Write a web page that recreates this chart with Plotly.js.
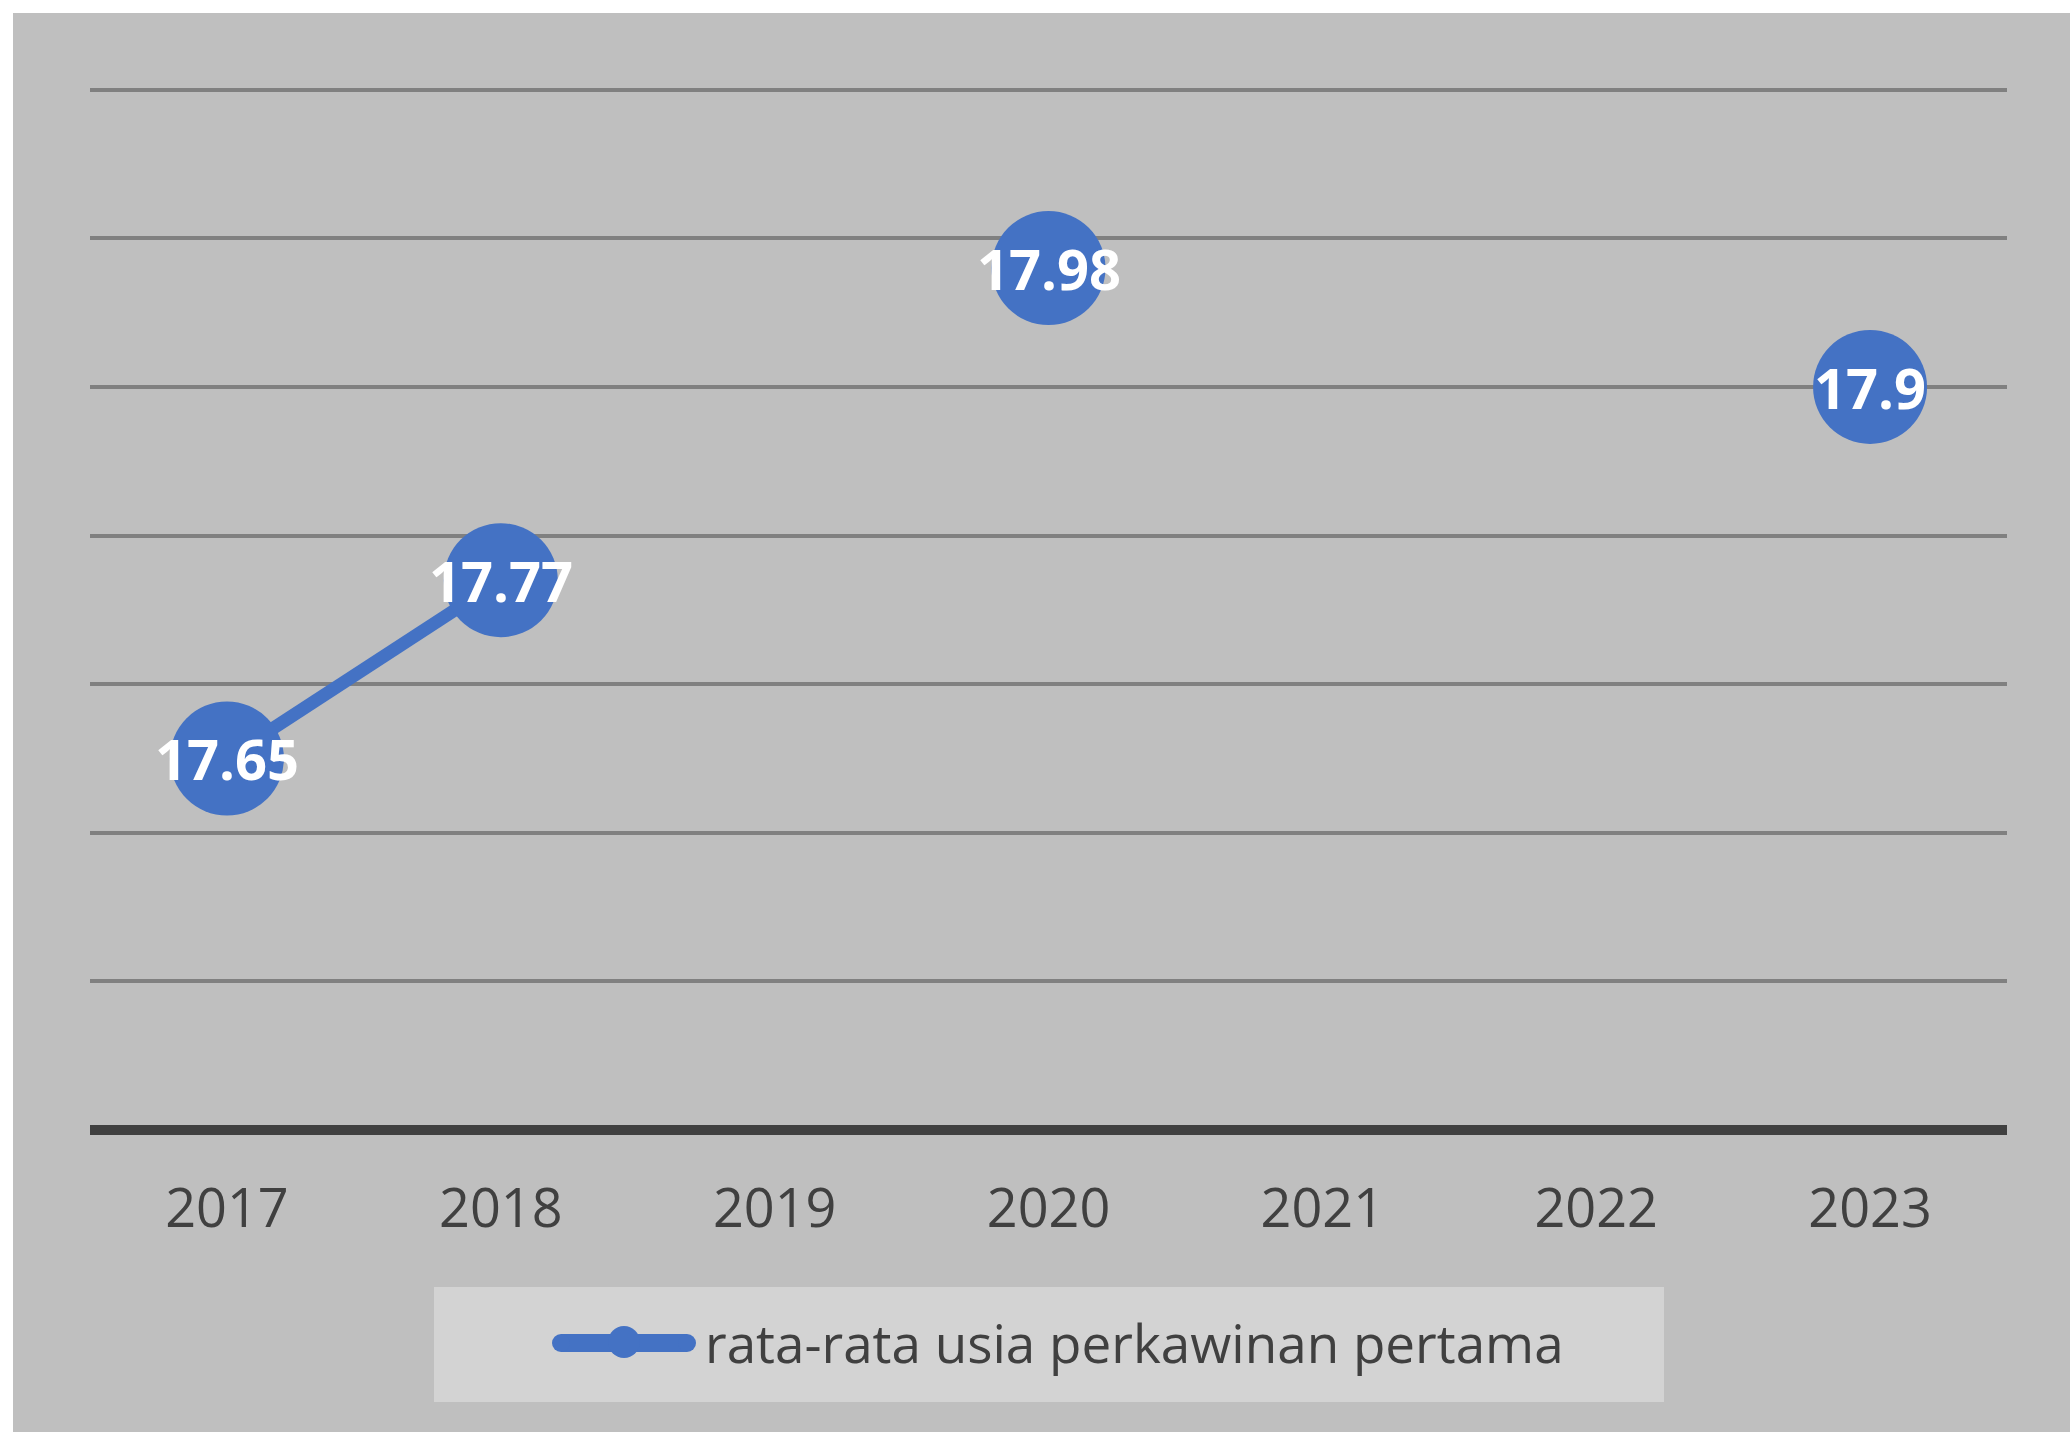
<!DOCTYPE html>
<html>
<head>
<meta charset="utf-8">
<script src="https://cdn.plot.ly/plotly-3.0.1.min.js"></script>
<style>
  html, body { margin: 0; padding: 0; background: #ffffff; }
  #chart { position: absolute; left: 13px; top: 13px; width: 2057px; height: 1419px; }
</style>
</head>
<body>
<div id="chart"></div>
<script>
const years = ["2017", "2018", "2019", "2020", "2021", "2022", "2023"];
const usia = [17.65, 17.77, null, 17.98, null, null, 17.9];
const labels = ["17.65", "17.77", "", "17.98", "", "", "17.9"];
const seriesName = "rata-rata usia perkawinan pertama";

const BLUE = "#4472C4";
const W = 2057, H = 1419;
const M = { l: 77, r: 63, t: 47, b: 302 };
const PW = W - M.l - M.r, PH = H - M.t - M.b;
// pixel (within chart div) -> paper fraction, used only for the legend block
const px = v => (v - M.l) / PW;
const py = v => (H - M.b - v) / PH;

const trace = {
  type: "scatter",
  mode: "lines+markers",
  x: years,
  y: usia,
  name: seriesName,
  line: { color: BLUE, width: 13 },
  marker: { color: BLUE, size: 114 },
  connectgaps: false,
  cliponaxis: false,
  showlegend: false,
  hoverinfo: "x+y"
};

const dataLabels = [];
years.forEach((yr, i) => {
  if (usia[i] === null) return;
  dataLabels.push({
    x: i, y: usia[i], xref: "x", yref: "y",
    text: "<b>" + labels[i] + "</b>", showarrow: false,
    xanchor: "center", yanchor: "middle",
    font: { family: "Open Sans", size: 56, color: "#ffffff" }
  });
});

// legend block
const legX0 = 539, legX1 = 683, legY = 1330, legT = 18;
const mkX = 611, mkY = 1329, mkD = 32;
const legendShapes = [
  { type: "rect", xref: "paper", yref: "paper",
    x0: px(421), x1: px(1651), y0: py(1389), y1: py(1274),
    fillcolor: "#D3D3D3", line: { width: 0 }, layer: "below" },
  { type: "line", xref: "paper", yref: "paper",
    x0: px(legX0 + legT / 2), x1: px(legX1 - legT / 2), y0: py(legY), y1: py(legY),
    line: { color: BLUE, width: legT } },
  { type: "circle", xref: "paper", yref: "paper",
    x0: px(legX0), x1: px(legX0 + legT), y0: py(legY + legT / 2), y1: py(legY - legT / 2),
    fillcolor: BLUE, line: { width: 0 } },
  { type: "circle", xref: "paper", yref: "paper",
    x0: px(legX1 - legT), x1: px(legX1), y0: py(legY + legT / 2), y1: py(legY - legT / 2),
    fillcolor: BLUE, line: { width: 0 } },
  { type: "circle", xref: "paper", yref: "paper",
    x0: px(mkX - mkD / 2), x1: px(mkX + mkD / 2), y0: py(mkY + mkD / 2), y1: py(mkY - mkD / 2),
    fillcolor: BLUE, line: { width: 0 } }
];

const axisShape = {
  type: "line", xref: "paper", yref: "paper",
  x0: 0, x1: 1, y0: 0, y1: 0,
  line: { color: "#404040", width: 10 }, layer: "above"
};

const legendText = {
  xref: "paper", yref: "paper", x: px(690), y: py(1329),
  xanchor: "left", yanchor: "middle", showarrow: false,
  text: seriesName,
  font: { family: "Open Sans", size: 53, color: "#404040" }
};

const layout = {
  width: W,
  height: H,
  paper_bgcolor: "#BFBFBF",
  plot_bgcolor: "#BFBFBF",
  margin: M,
  showlegend: false,
  xaxis: {
    type: "category",
    range: [-0.5, 6.5],
    showgrid: false,
    showline: false,
    ticks: "",
    ticklabelstandoff: 42,
    tickfont: { family: "Open Sans", size: 54, color: "#404040" },
    zeroline: false,
    fixedrange: true
  },
  yaxis: {
    range: [17.4, 18.12],
    tickvals: [17.4, 17.5, 17.6, 17.7, 17.8, 17.9, 18.0, 18.1],
    showgrid: true,
    gridcolor: "#808080",
    gridwidth: 4,
    showticklabels: false,
    ticks: "",
    zeroline: false,
    showline: false,
    fixedrange: true
  },
  shapes: [axisShape].concat(legendShapes),
  annotations: dataLabels.concat([legendText])
};

Plotly.newPlot("chart", [trace], layout, { displayModeBar: false, staticPlot: true });
</script>
</body>
</html>
